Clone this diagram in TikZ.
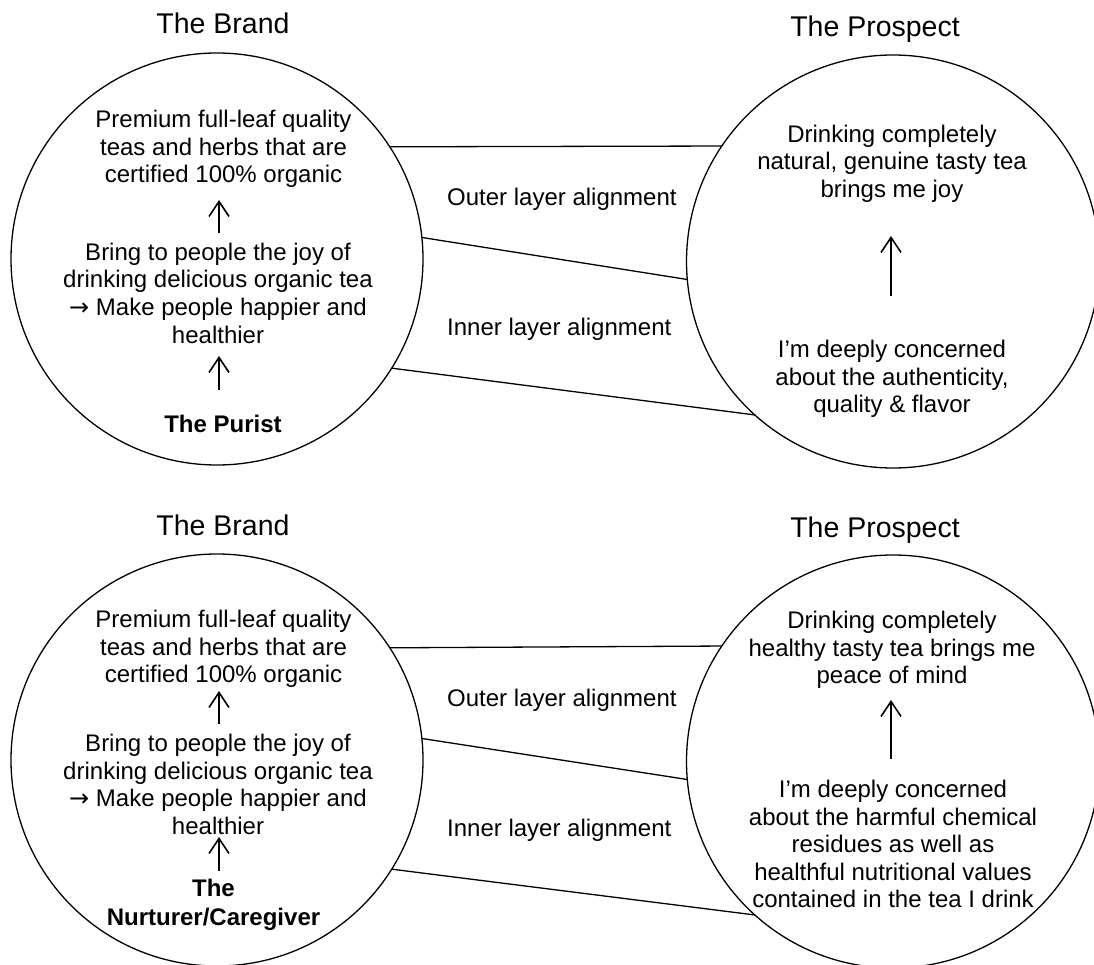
\documentclass[tikz,border=0pt]{standalone}
\usepackage{fontspec}
\setmainfont{Liberation Sans}
\newfontfamily\djv{DejaVu Sans}
\usetikzlibrary{arrows.meta}
\begin{document}
\begin{tikzpicture}[x=1pt,y=-1pt,
  ring/.style={draw, circle, line width=1.3pt, inner sep=0pt, outer sep=0pt},
  title/.style={font=\fontsize{28.5}{33}\selectfont, inner sep=0pt, anchor=base},
  body/.style={font=\fontsize{24}{27.5}\selectfont, align=center, inner sep=0pt, anchor=base},
  label/.style={font=\fontsize{24}{27.5}\selectfont, inner sep=0pt, anchor=base west},
  link/.style={line width=1.3pt},
  up/.style={line width=1.6pt, -{Straight Barb[length=15pt,width=20pt]}},
]
\useasboundingbox (0,0) rectangle (1094,965);

% ---------- top part ----------
\node[title] (tb1) at (223,34) {The Brand};
\node[title] (tp1) at (875,37) {The Prospect};
\node[ring, minimum size=412pt] (L1) at (217,259) {};
\node[ring, minimum size=413pt] (R1) at (893,261.5) {};

\node[body] (L1a) at (223.5,183) {Premium full-leaf quality\\teas and herbs that are\\certified 100\% organic};
\node[body] (L1b) at (218,343) {Bring to people the joy of\\drinking delicious organic tea\\{\djv →} Make people happier and\\healthier};
\node[body, font=\fontsize{24}{27.5}\selectfont\bfseries] (L1c) at (223,432.5) {The Purist};
\coordinate (L1a1) at (219,233); \coordinate (L1a2) at (219,200);
\coordinate (L1b1) at (219,390); \coordinate (L1b2) at (219,356);
\draw[up] (L1a1) -- (L1a2);
\draw[up] (L1b1) -- (L1b2);

\node[body] (R1a) at (892,197.5) {Drinking completely\\natural, genuine tasty tea\\brings me joy};
\node[body] (R1b) at (892,412.5) {I’m deeply concerned\\about the authenticity,\\quality \& flavor};
\coordinate (R1a1) at (891,296); \coordinate (R1a2) at (891,236);
\draw[up] (R1a1) -- (R1a2);

\draw[link] (L1.33.6) -- (R1.146);
\draw[link] (L1.6.4) -- (R1.185.1);
\draw[link] (L1.-32) -- (R1.228.9);
\node[label] (o1) at (447,205.5) {Outer layer alignment};
\node[label] (i1) at (447,335.5) {Inner layer alignment};

% ---------- bottom part ----------
\node[title] (tb2) at (223,535) {The Brand};
\node[title] (tp2) at (875,537) {The Prospect};
\node[ring, minimum size=412pt] (L2) at (217,760) {};
\node[ring, minimum size=413pt] (R2) at (893,761.5) {};

\node[body] (L2a) at (223.5,682.5) {Premium full-leaf quality\\teas and herbs that are\\certified 100\% organic};
\node[body] (L2b) at (218,834) {Bring to people the joy of\\drinking delicious organic tea\\{\djv →} Make people happier and\\healthier};
\node[body, font=\fontsize{24}{28.5}\selectfont\bfseries] (L2c) at (213.5,925) {The\\Nurturer/Caregiver};
\coordinate (L2a1) at (219,724); \coordinate (L2a2) at (219,691);
\coordinate (L2b1) at (219,871); \coordinate (L2b2) at (219,837);
\draw[up] (L2a1) -- (L2a2);
\draw[up] (L2b1) -- (L2b2);

\node[body] (R2a) at (892,683.5) {Drinking completely\\healthy tasty tea brings me\\peace of mind};
\node[body] (R2b) at (893,907.5) {I’m deeply concerned\\about the harmful chemical\\residues as well as\\healthful nutritional values\\contained in the tea I drink};
\coordinate (R2a1) at (891,759); \coordinate (R2a2) at (891,700);
\draw[up] (R2a1) -- (R2a2);

\draw[link] (L2.33.6) -- (R2.146);
\draw[link] (L2.6.4) -- (R2.185.1);
\draw[link] (L2.-32) -- (R2.228.9);
\node[label] (o2) at (447,706) {Outer layer alignment};
\node[label] (i2) at (447,836) {Inner layer alignment};
\end{tikzpicture}
\end{document}
